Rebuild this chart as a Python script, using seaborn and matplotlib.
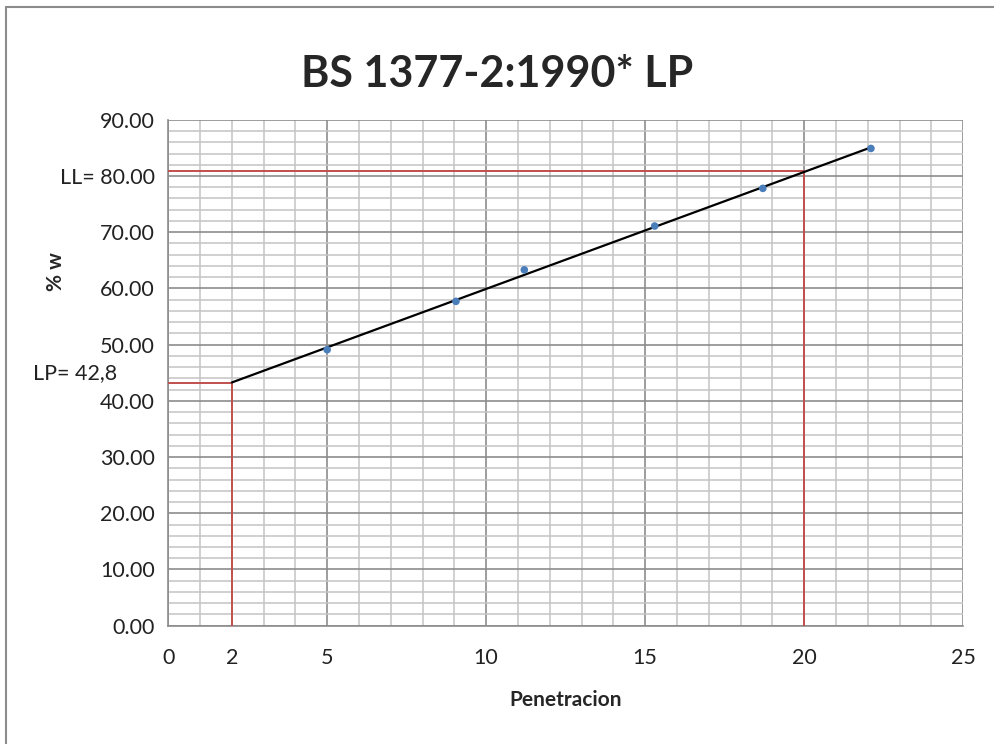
import numpy as np
import pandas as pd
import seaborn as sns
import matplotlib.pyplot as plt
from matplotlib.patches import Rectangle
from matplotlib.ticker import FuncFormatter

# data
penetracion = [5.0, 9.05, 11.2, 15.3, 18.7, 22.1]
humedad = [49.1, 57.7, 63.3, 71.1, 77.8, 84.9]
lp_x, lp_y = 2.0, 43.2
ll_x, ll_y = 20.0, 80.9
xticks = [0, 5, 10, 15, 20, 25]
yticks = [0, 10, 20, 30, 40, 50, 60, 70, 80, 90]
ylabels = ['0.00', '10.00', '20.00', '30.00', '40.00', '50.00', '60.00', '70.00', 'LL= 80.00', '90.00']

sns.set_theme(style='white')
plt.rcParams['font.family'] = ['Lato', 'DejaVu Sans']

df = pd.DataFrame({'Penetracion': penetracion, 'w': humedad})

fig = plt.figure(figsize=(9.95, 7.44), dpi=100)
ax = fig.add_axes([0.169, 0.159, 0.799, 0.68])

# red construction lines
red = '#c0504d'
ax.plot([0, lp_x, lp_x], [lp_y, lp_y, 0], color=red, lw=1.4, zorder=3)
ax.plot([0, ll_x, ll_x], [ll_y, ll_y, 0], color=red, lw=1.4, zorder=3)

# trend line
m, b = np.polyfit(penetracion, humedad, 1)
xs = np.array([lp_x, max(penetracion)])
ax.plot(xs, m * xs + b, color='black', lw=1.6, zorder=4)

sns.scatterplot(data=df, x='Penetracion', y='w', ax=ax, color='#4a7ebb', s=30,
                edgecolor='none', zorder=5)

ax.set_xlim(0, 25)
ax.set_ylim(0, 90)
ax.set_xticks(xticks)
ax.set_xticks(np.arange(0, 26, 1), minor=True)
ax.xaxis.set_minor_formatter(FuncFormatter(lambda v, p: '2' if abs(v - lp_x) < 1e-6 else ''))
ax.set_yticks(yticks)
ax.set_yticks(np.arange(0, 91, 2), minor=True)
ax.set_yticklabels(ylabels)
ax.grid(which='major', color='#8c8c8c', lw=1.2)
ax.grid(which='minor', color='#c4c4c4', lw=1.1)
ax.set_axisbelow(True)
for s in ['top', 'right']:
    ax.spines[s].set_visible(False)
for s in ['left', 'bottom']:
    ax.spines[s].set_color('#8c8c8c')
    ax.spines[s].set_linewidth(1.2)
ax.tick_params(axis='both', which='both', labelsize=15.5, labelcolor='#222222')
ax.tick_params(axis='both', which='major', direction='out', length=6, color='#8c8c8c', width=1.2)
ax.tick_params(axis='x', which='major', pad=10)
ax.tick_params(axis='x', which='minor', length=0, pad=16)
ax.tick_params(axis='y', which='minor', length=0)

ax.text(-1.6, 45.0, 'LP= 42,8', ha='right', va='center', fontsize=15.5, color='#222222')

ax.set_xlabel('Penetracion', fontsize=15, fontweight='bold', labelpad=16)
ax.set_ylabel('% w', fontsize=15, fontweight='bold')
ax.yaxis.set_label_coords(-0.128, 0.70)
fig.suptitle('BS 1377-2:1990* LP', fontsize=31, fontweight='bold', y=0.927)

fig.patches.append(Rectangle((0.006, -0.01), 1.1, 1.0, transform=fig.transFigure,
                             fill=False, edgecolor='#8c8c8c', lw=1.5))

fig.savefig('out.png', dpi=100)
